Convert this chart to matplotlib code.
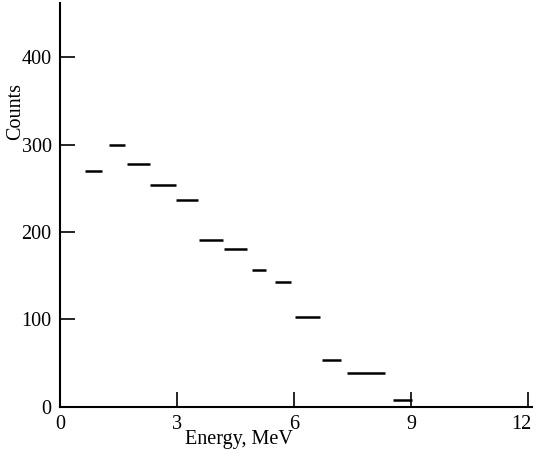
import matplotlib
matplotlib.use("Agg")
import matplotlib.pyplot as plt
import matplotlib.transforms as mtransforms

# energy bins (MeV) and counts
e_lo = [0.64, 1.26, 1.73, 2.31, 2.97, 3.57, 4.21, 4.92, 5.52, 6.03, 6.71, 7.35, 8.53]
e_hi = [1.08, 1.66, 2.30, 2.97, 3.54, 4.18, 4.80, 5.28, 5.91, 6.66, 7.21, 8.33, 9.03]
counts = [270, 300, 278, 254, 237, 191, 181, 157, 143, 103, 53, 39, 8]

x_ticks = [0, 3, 6, 9, 12]
y_ticks = [0, 100, 200, 300, 400]

plt.rcParams["font.family"] = ["Liberation Serif", "DejaVu Serif"]

fig = plt.figure(figsize=(5.36, 4.61), dpi=100)
ax = fig.add_axes([60 / 536, 54.3 / 461, 472 / 536, 403.7 / 461])

ax.hlines(counts, e_lo, e_hi, colors="black", linewidth=1.8)

ax.set_xlim(0, 12.1)
ax.set_ylim(0, 462)
ax.set_xticks(x_ticks)
ax.set_yticks(y_ticks)
ax.tick_params(direction="in", length=11, width=1.2, labelsize=14.5, pad=6)
ax.tick_params(axis="x", pad=6)

for s in ("top", "right"):
    ax.spines[s].set_visible(False)
for s in ("left", "bottom"):
    ax.spines[s].set_linewidth(1.5)

# the last x label sits a little left of its tick, as in the original
fig.canvas.draw()
shift = mtransforms.ScaledTranslation(-7 / 100, 0, fig.dpi_scale_trans)
last = ax.get_xticklabels()[-1]
last.set_transform(last.get_transform() + shift)

ax.set_xlabel("Energy, MeV", fontsize=14.5)
ax.xaxis.set_label_coords(0.38, -0.081)
ax.xaxis.label.set_va("center")
ax.set_ylabel("Counts", fontsize=14.5)
ax.yaxis.set_label_coords(-0.095, 0.73)
ax.yaxis.label.set_va("center")

fig.savefig("out.png", dpi=100)
